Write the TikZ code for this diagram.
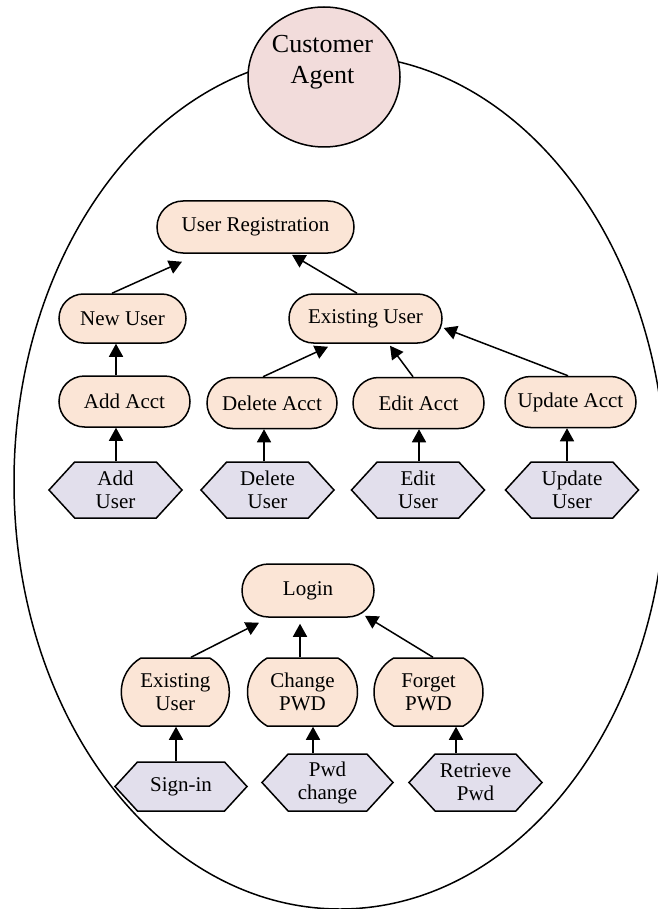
\documentclass[tikz,border=0pt]{standalone}
\usepackage{fontspec}
\setmainfont{Liberation Serif}
\usetikzlibrary{shapes.misc,shapes.symbols,shapes.geometric,arrows.meta}
\definecolor{peach}{HTML}{FBE5D6}
\definecolor{lav}{HTML}{E2DFEC}
\definecolor{pinkc}{HTML}{F2DCDB}
\begin{document}
\begin{tikzpicture}[x=1pt,y=-1pt,
  line width=1.5pt,
  font=\fontsize{21}{23}\selectfont,
  box/.style={rounded rectangle, draw, fill=peach, minimum height=50pt, inner sep=0pt, align=center},
  tallbox/.style={box, rounded rectangle arc length=120, minimum height=68pt},
  hexa/.style={signal, signal to=east and west, signal from=nowhere, signal pointer angle=95, draw, fill=lav, minimum height=56pt, inner sep=0pt, align=center},
  arr/.style={-{Triangle[length=13pt,width=14pt]}},
  lbl/.style={align=center, inner sep=0pt, font=\fontsize{26}{31}\selectfont}
]
\useasboundingbox (0,0) rectangle (657,909);
\draw (340,482) ellipse [x radius=326, y radius=427];
\node[ellipse, draw, fill=pinkc, minimum width=152pt, minimum height=140pt] (agent) at (324,77) {};
\node[lbl] (agenttxt) at (322.5,62) {Customer\\Agent};

\node[box, minimum width=197pt, minimum height=52pt] (ureg) at (255.5,227) {User Registration};
\node[box, minimum width=127pt, minimum height=49pt] (newu) at (122.5,318.5) {New User};
\node[box, minimum width=153pt, minimum height=49pt] (exu) at (365.5,318.5) {Existing User};
\node[box, minimum width=131pt, minimum height=51pt] (adda) at (124.5,401.5) {Add Acct};
\node[box, minimum width=130pt, minimum height=51pt] (dela) at (272,403) {Delete Acct};
\node[box, minimum width=131pt, minimum height=51pt] (edita) at (418.5,403) {Edit Acct};
\node[box, minimum width=131pt, minimum height=51pt] (upda) at (570.5,402) {Update Acct};

\node[hexa, minimum width=133pt] (addu) at (115.5,490) {Add\\User};
\node[hexa, minimum width=133pt] (delu) at (267.5,490) {Delete\\User};
\node[hexa, minimum width=133pt] (editu) at (418,490) {Edit\\User};
\node[hexa, minimum width=133pt] (updu) at (572,490) {Update\\User};

\node[box, minimum width=132pt, minimum height=53pt] (login) at (308,590.5) {Login};
\node[tallbox, minimum width=108pt] (lexu) at (175.3,692) {Existing\\User};
\node[tallbox, minimum width=110pt] (chg) at (302.5,692) {Change\\PWD};
\node[tallbox, minimum width=109pt] (fgt) at (428.5,692) {Forget\\PWD};

\node[hexa, minimum width=132pt, minimum height=49pt] (sign) at (181,786.5) {Sign-in};
\node[hexa, minimum width=131pt, minimum height=57pt] (pwdc) at (327.5,782.5) {Pwd\\change};
\node[hexa, minimum width=133pt, minimum height=57pt] (retr) at (475.5,782.5) {Retrieve\\Pwd};

% top tree arrows
\draw[arr] (adda.north -| 116,0) -- (newu.south -| 116,0);
\draw[arr] (addu.north -| 116,0) -- (adda.south -| 116,0);
\draw[arr] (delu.north -| 264,0) -- (dela.south -| 264,0);
\draw[arr] (editu.north -| 419,0) -- (edita.south -| 419,0);
\draw[arr] (updu.north -| 567,0) -- (upda.south -| 567,0);
\draw[arr] ([xshift=-10.5pt]newu.north) -- ([shift={(-73.5,8)}]ureg.south);
\draw[arr] ([xshift=-8.5pt]exu.north) -- ([shift={(36.5,1)}]ureg.south);
\draw[arr] ([xshift=-9pt]dela.north) -- ([shift={(-37.5,3)}]exu.south);
\draw[arr] ([xshift=-5.5pt]edita.north) -- ([shift={(24.5,2)}]exu.south);
\draw[arr] ([xshift=-2.5pt]upda.north) -- ([shift={(1,9.5)}]exu.east);

% login tree arrows
\draw[arr] ([xshift=15.7pt]lexu.north) -- ([shift={(-49,5)}]login.south);
\draw[arr] (chg.north -| 300,0) -- ([shift={(-8,6)}]login.south);
\draw[arr] ([xshift=4.5pt]fgt.north) -- ([shift={(57,-2)}]login.south);
\draw[arr] (sign.north -| 176,0) -- (lexu.south -| 176,0);
\draw[arr] (pwdc.north -| 313,0) -- (chg.south -| 313,0);
\draw[arr] (retr.north -| 456,0) -- (fgt.south -| 456,0);
\end{tikzpicture}
\end{document}
